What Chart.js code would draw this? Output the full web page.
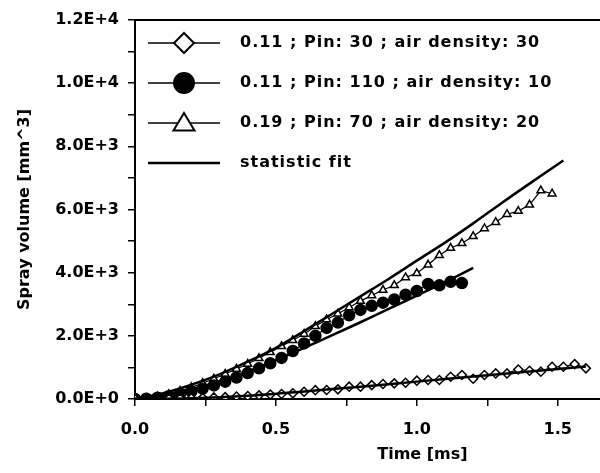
<!DOCTYPE html>
<html lang="en">
<head>
<meta charset="UTF-8">
<title>Spray volume vs time</title>
<script src="https://cdn.jsdelivr.net/npm/chart.js"></script>
<style>
  body { margin: 0; background: #fff; }
</style>
</head>
<body>
<canvas id="grafico" width="600" height="473"></canvas>
<script>
// measured sample times (ms)
const tiempos = [0.00, 0.04, 0.08, 0.12, 0.16, 0.20, 0.24, 0.28, 0.32, 0.36, 0.40, 0.44, 0.48, 0.52,
                 0.56, 0.60, 0.64, 0.68, 0.72, 0.76, 0.80, 0.84, 0.88, 0.92, 0.96, 1.00, 1.04, 1.08,
                 1.12, 1.16, 1.20, 1.24, 1.28, 1.32, 1.36, 1.40, 1.44, 1.48, 1.52, 1.56, 1.60];

// 0.11 ; Pin: 30 ; air density: 30  (diamonds)
const volDiamante = [0, 0, 5, 10, 15, 25, 35, 50, 60, 80, 95, 115, 140, 160,
                     180, 230, 280, 285, 305, 390, 390, 440, 475, 495, 515, 580, 600, 600,
                     705, 760, 640, 760, 810, 810, 935, 895, 865, 1020, 1020, 1105, 970];

// 0.11 ; Pin: 110 ; air density: 10  (filled circles)
const volCirculo = [0, 10, 40, 90, 160, 240, 330, 430, 550, 680, 820, 970, 1130, 1300,
                    1520, 1760, 2000, 2250, 2420, 2650, 2820, 2950, 3050, 3150, 3300, 3420, 3640, 3600,
                    3710, 3670];

// 0.19 ; Pin: 70 ; air density: 20  (triangles)
const volTriangulo = [0, 20, 70, 150, 250, 370, 500, 640, 790, 950, 1110, 1290, 1480, 1670,
                      1860, 2060, 2300, 2520, 2700, 2900, 3100, 3280, 3450, 3600, 3850, 3980, 4250, 4550,
                      4780, 4930, 5150, 5400, 5600, 5850, 5950, 6150, 6600, 6500];

// statistic fits
const tiempoAjusteTri = [0, 0.1, 0.2, 0.3, 0.4, 0.5, 0.6, 0.7, 0.8, 0.9, 1.0, 1.1, 1.2, 1.3, 1.4, 1.52];
const ajusteTri = [0, 180, 450, 780, 1180, 1620, 2150, 2700, 3250, 3800, 4380, 4950, 5560, 6200, 6820, 7550];
const tiempoAjusteCirc = [0, 0.1, 0.2, 0.3, 0.4, 0.5, 0.6, 0.7, 0.8, 0.9, 1.0, 1.1, 1.2];
const ajusteCirc = [0, 100, 300, 560, 870, 1230, 1620, 2020, 2430, 2850, 3270, 3700, 4150];
const tiempoAjusteDiam = [0, 0.2, 0.4, 0.6, 0.8, 1.0, 1.2, 1.4, 1.6];
const ajusteDiam = [0, 20, 100, 240, 390, 550, 710, 870, 1030];

// axis ticks
const ticksTiempo = [0, 0.25, 0.5, 0.75, 1.0, 1.25, 1.5];

const etiquetas = ['0.11 ; Pin: 30 ; air density: 30', '0.11 ; Pin: 110 ; air density: 10',
                   '0.19 ; Pin: 70 ; air density: 20', 'statistic fit'];

const negro = '#000';
const fuente = { family: 'DejaVu Sans', size: 16, weight: 'bold' };

function puntos(tt, vv) {
    return vv.map((v, i) => ({ x: tt[i], y: v }));
}

function serieMedida(label, data, estilo, relleno, radio) {
    return {
        label: label, data: data,
        borderColor: negro, borderWidth: 1.2,
        pointStyle: estilo, pointRadius: radio,
        pointBackgroundColor: relleno, pointBorderColor: negro, pointBorderWidth: 1.5,
        tension: 0
    };
}

function serieAjuste(data) {
    return { label: 'statistic fit', data: data, borderColor: negro, borderWidth: 2.5, pointRadius: 0, tension: 0.3 };
}

// legend drawn inside the plot area, like the original
const leyenda = {
    id: 'leyenda',
    afterDraw(chart) {
        const ctx = chart.ctx;
        const ca = chart.chartArea;
        const x0 = ca.left + 13, x1 = ca.left + 85, xm = ca.left + 49;
        ctx.save();
        ctx.strokeStyle = negro;
        ctx.fillStyle = negro;
        etiquetas.forEach((txt, i) => {
            const y = ca.top + 23 + i * 40;
            ctx.lineWidth = i === 3 ? 2.5 : 1.5;
            ctx.beginPath(); ctx.moveTo(x0, y); ctx.lineTo(x1, y); ctx.stroke();
            ctx.lineWidth = 2;
            ctx.beginPath();
            if (i === 0) {
                const r = 10;
                ctx.moveTo(xm, y - r); ctx.lineTo(xm + r, y); ctx.lineTo(xm, y + r); ctx.lineTo(xm - r, y); ctx.closePath();
                ctx.fillStyle = '#fff'; ctx.fill(); ctx.stroke();
            } else if (i === 1) {
                ctx.arc(xm, y, 11, 0, Math.PI * 2);
                ctx.fillStyle = negro; ctx.fill();
            } else if (i === 2) {
                const r = 10;
                ctx.moveTo(xm, y - r); ctx.lineTo(xm + r * 1.05, y + r * 0.75); ctx.lineTo(xm - r * 1.05, y + r * 0.75); ctx.closePath();
                ctx.fillStyle = '#fff'; ctx.fill(); ctx.stroke();
            }
            ctx.fillStyle = negro;
            ctx.font = 'bold 16px "DejaVu Sans"';
            ctx.letterSpacing = '1px';
            ctx.textBaseline = 'middle';
            ctx.textAlign = 'left';
            ctx.fillText(txt, ca.left + 105, y);
            ctx.letterSpacing = '0px';
        });
        // x axis title, sits under the 1.0 tick in the original
        ctx.textAlign = 'center';
        ctx.fillText('Time [ms]', chart.scales.x.getPixelForValue(1.02), 455);
        ctx.restore();
    }
};

new Chart(document.getElementById('grafico'), {
    type: 'line',
    data: {
        datasets: [
            serieAjuste(puntos(tiempoAjusteTri, ajusteTri)),
            serieAjuste(puntos(tiempoAjusteCirc, ajusteCirc)),
            serieAjuste(puntos(tiempoAjusteDiam, ajusteDiam)),
            serieMedida(etiquetas[0], puntos(tiempos, volDiamante), 'rectRot', '#fff', 4.5),
            serieMedida(etiquetas[1], puntos(tiempos, volCirculo), 'circle', negro, 5.5),
            serieMedida(etiquetas[2], puntos(tiempos, volTriangulo), 'triangle', '#fff', 4.5)
        ]
    },
    options: {
        responsive: false,
        animation: false,
        devicePixelRatio: 1,
        layout: { padding: 0, autoPadding: false },
        plugins: { legend: { display: false }, tooltip: { enabled: false } },
        scales: {
            x: {
                type: 'linear', min: 0, max: 1.65,
                afterFit(s) { s.height = 74; s.paddingRight = 0; },
                afterBuildTicks(s) { s.ticks = ticksTiempo.map(v => ({ value: v })); },
                border: { color: negro, width: 2 },
                grid: { drawOnChartArea: false, tickLength: 7, color: negro, lineWidth: 1.5 },
                ticks: {
                    autoSkip: false, maxRotation: 0, padding: 14,
                    color: negro, font: fuente,
                    callback(v) { return Math.abs(v * 2 - Math.round(v * 2)) < 1e-6 ? v.toFixed(1) : ''; }
                }
            },
            x2: {
                type: 'linear', position: 'top', min: 0, max: 1.65,
                afterFit(s) { s.height = 20; s.paddingRight = 0; },
                border: { color: negro, width: 2 },
                grid: { display: false },
                ticks: { display: false }
            },
            y: {
                min: 0, max: 12000,
                afterFit(s) { s.width = 135; },
                border: { color: negro, width: 2 },
                grid: { drawOnChartArea: false, tickLength: 7, color: negro, lineWidth: 1.5 },
                ticks: {
                    stepSize: 1000, autoSkip: false, padding: 9,
                    color: negro, font: fuente,
                    callback(v) { return v % 2000 === 0 ? v.toExponential(1).toUpperCase() : ''; }
                },
                title: { display: true, text: 'Spray volume [mm^3]', color: negro, font: fuente, padding: { top: 15 } }
            }
        }
    },
    plugins: [leyenda]
});
</script>
</body>
</html>
